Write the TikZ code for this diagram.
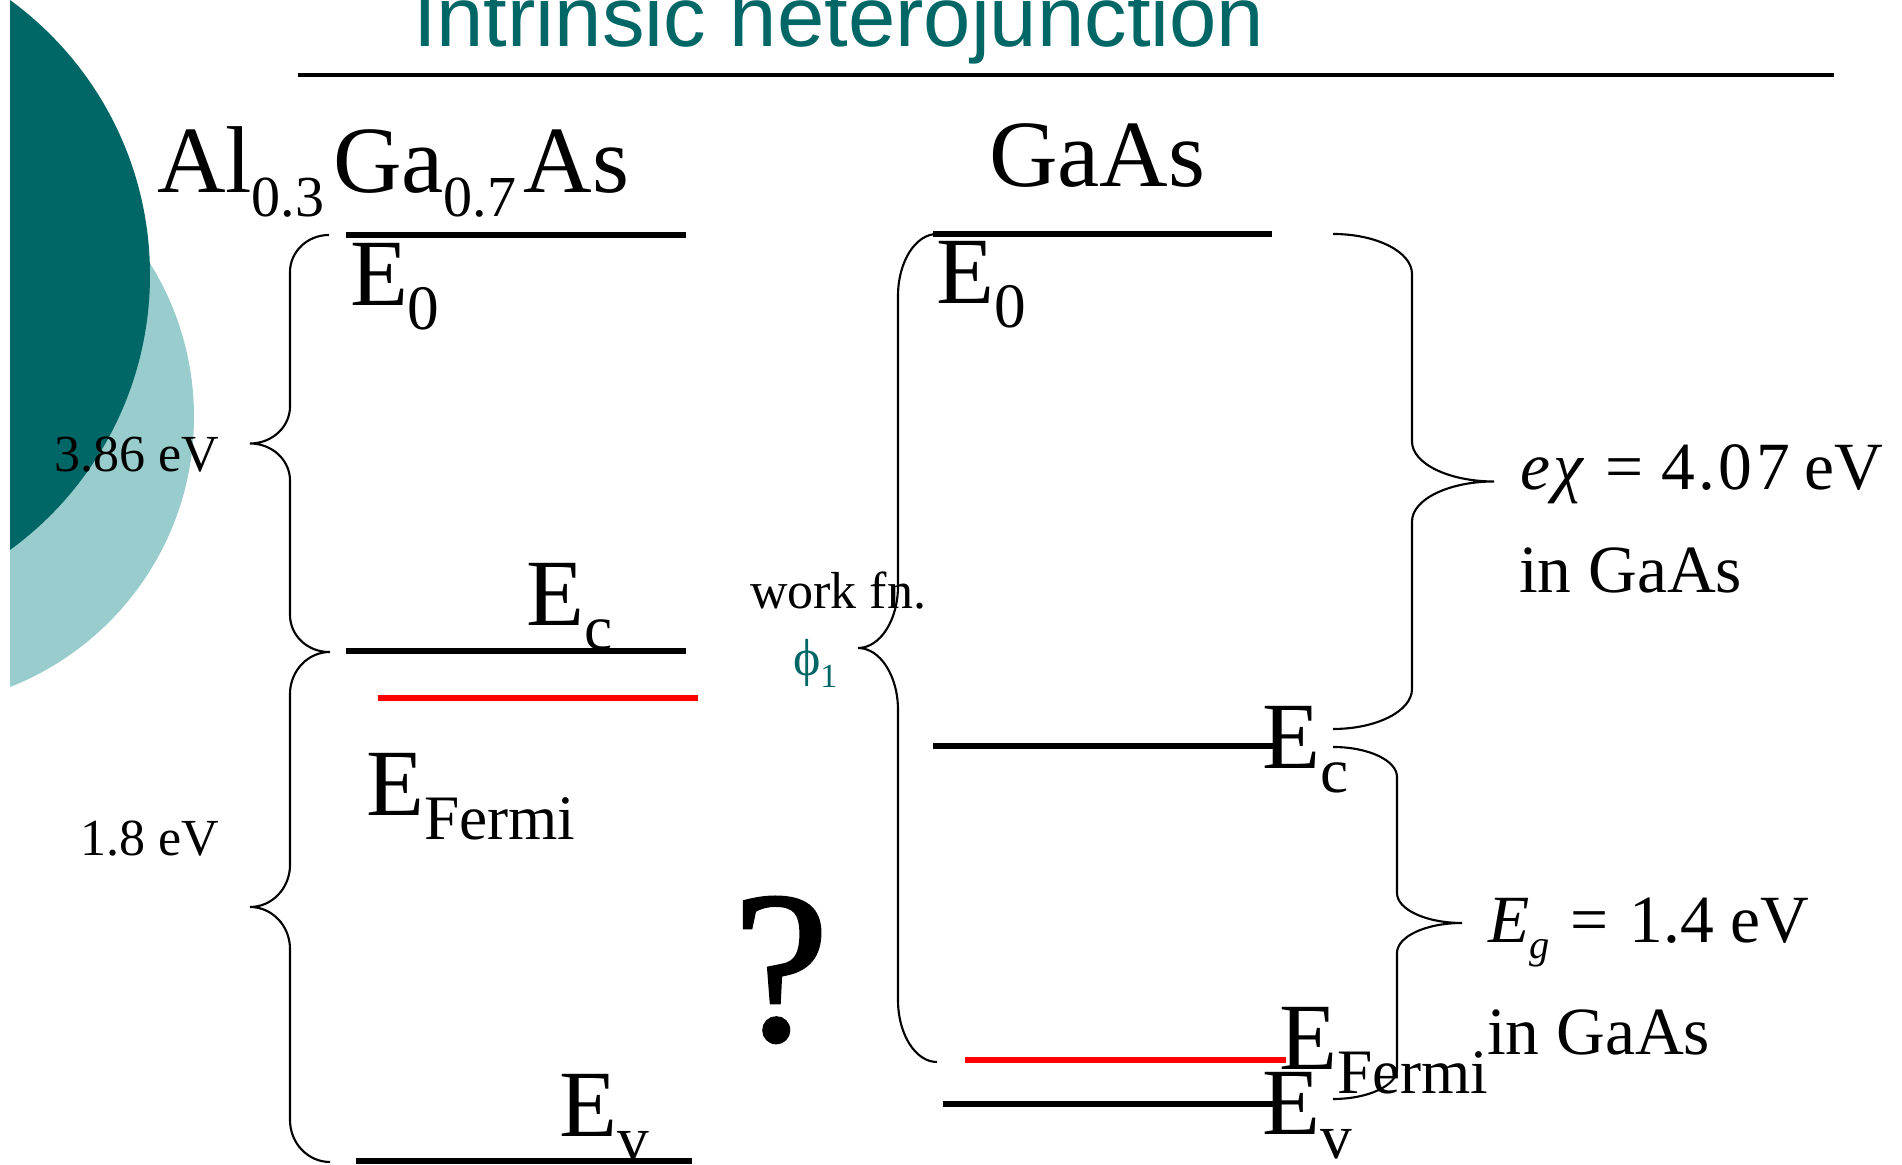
\documentclass[tikz,border=0pt]{standalone}
\usepackage{fontspec}
\setmainfont{Liberation Serif}
\newfontfamily\titlefont{Liberation Sans}
\newfontfamily\qfont[FakeBold=1.2]{Liberation Serif}
\definecolor{tealdark}{RGB}{0,102,102}
\definecolor{teallight}{RGB}{153,204,204}
\newcommand{\fs}[1]{\fontsize{#1pt}{#1pt}\selectfont}
\newcommand{\Elab}[1]{E\raisebox{-6.8pt}{\fs{18}#1}}
% curly brace: #1 end x, #2 spine x, #3 tip x, #4 top y, #5 bottom y, #6 corner radius
\newcommand{\curlybrace}[6]{%
 \pgfmathsetmacro{\bym}{(#4+#5)/2}%
 \pgfmathsetmacro{\bk}{0.5523}%
 \pgfmathsetmacro{\cxa}{#1+\bk*(#2-#1)}%
 \pgfmathsetmacro{\ya}{#4+#6}%
 \pgfmathsetmacro{\yac}{#4+#6-\bk*#6}%
 \pgfmathsetmacro{\yb}{\bym-#6}%
 \pgfmathsetmacro{\ybc}{\bym-#6+\bk*#6}%
 \pgfmathsetmacro{\cxt}{#3+\bk*(#2-#3)}%
 \pgfmathsetmacro{\yc}{\bym+#6}%
 \pgfmathsetmacro{\ycc}{\bym+#6-\bk*#6}%
 \pgfmathsetmacro{\yd}{#5-#6}%
 \pgfmathsetmacro{\ydc}{#5-#6+\bk*#6}%
 \draw[bracestyle] (#1,#4) .. controls (\cxa,#4) and (#2,\yac) .. (#2,\ya) -- (#2,\yb)
   .. controls (#2,\ybc) and (\cxt,\bym) .. (#3,\bym)
   .. controls (\cxt,\bym) and (#2,\ycc) .. (#2,\yc) -- (#2,\yd)
   .. controls (#2,\ydc) and (\cxa,#5) .. (#1,#5);%
}
\begin{document}
\begin{tikzpicture}[x=0.01cm, y=-0.01cm,
  every node/.style={inner sep=0pt, outer sep=0pt},
  bandline/.style={line width=1.6pt, black},
  fermiline/.style={line width=1.6pt, red},
  bracestyle/.style={line width=0.6pt, black},
  big/.style={font=\fs{27}, anchor=base west},
  mid/.style={font=\fs{19.2}, anchor=base west},
  small/.style={font=\fs{14.8}}]
\useasboundingbox (0,0) rectangle (1902,1165);
\fill[white] (0,0) rectangle (1902,1165);
% background discs
\begin{scope}
  \clip (10,0) rectangle (1902,1165);
  \fill[teallight] (-96,417) circle [radius=290];
  \fill[tealdark] (-190,275) circle [radius=340];
\end{scope}
% title and rule
\node[anchor=base west, text=tealdark, font=\titlefont\fs{24.2}] (title) at (413,47) {Intrinsic heterojunction};
\coordinate (ruleL) at (298,75);
\coordinate (ruleR) at (1834,75);
\draw[line width=1.14pt] (ruleL) -- (ruleR);
% material names
\node[big] (alga) at (157,193) {Al\raisebox{-6.8pt}{\fs{16.5}0.3}\hspace{2.5pt}Ga\raisebox{-6.8pt}{\fs{16.5}0.7}\hspace{2pt}As};
\node[big] (gaas) at (989,187) {GaAs};
% AlGaAs levels
\coordinate (lE0a) at (346,235); \coordinate (lE0b) at (686,235);
\coordinate (lEca) at (346,651); \coordinate (lEcb) at (686,651);
\coordinate (lEfa) at (378,698); \coordinate (lEfb) at (698,698);
\coordinate (lEva) at (356,1161); \coordinate (lEvb) at (692,1161);
\draw[bandline] (lE0a) -- (lE0b);
\draw[bandline] (lEca) -- (lEcb);
\draw[fermiline] (lEfa) -- (lEfb);
\draw[bandline] (lEva) -- (lEvb);
% GaAs levels
\coordinate (rE0a) at (933,234); \coordinate (rE0b) at (1272,234);
\coordinate (rEca) at (933,746); \coordinate (rEcb) at (1277,746);
\coordinate (rEfa) at (965,1060); \coordinate (rEfb) at (1286,1060);
\coordinate (rEva) at (943,1104); \coordinate (rEvb) at (1276,1104);
\draw[bandline] (rE0a) -- (rE0b);
\draw[bandline] (rEca) -- (rEcb);
\draw[fermiline] (rEfa) -- (rEfb);
\draw[bandline] (rEva) -- (rEvb);
% level labels
\node[big] (lE0) at (350,306) {\Elab{0}};
\node[big] (lEc) at (526,626) {\Elab{c}};
\node[big] (lEf) at (366,816) {\Elab{Fermi}};
\node[big] (lEv) at (559,1137) {\Elab{v}};
\node[big] (rE0) at (936,304) {\Elab{0}};
\node[big] (rEc) at (1262,769) {\Elab{c}};
\node[big] (rEf) at (1279,1070) {\Elab{Fermi}};
\node[big] (rEv) at (1262,1135) {\Elab{v}};
% question mark
\node[font=\qfont\fs{61.5}, anchor=base] (qm) at (781,1040) {?};
% braces
\curlybrace{329}{290}{250}{235}{652}{37}
\curlybrace{330}{290}{250}{652}{1162}{42}
\curlybrace{937}{898}{858}{234}{1062}{62}
\curlybrace{1333}{1412}{1494}{234}{729}{40}
\curlybrace{1333}{1397}{1462}{747}{1099}{30}
% small labels
\node[small, anchor=base east] (e386) at (219,472) {3.86 eV};
\node[small, anchor=base east] (e18) at (219,856) {1.8 eV};
\node[small, anchor=base west] (wf) at (750,609) {work fn.};
\node[small, anchor=base west, text=tealdark] (phi) at (793,676) {ϕ\raisebox{-3.4pt}{\fs{9.6}1}};
% right labels
\node[mid] (chi) at (1520,490) {\textit{e\kern1ptχ}\hspace{6pt}=\hspace{5pt}4\hspace{1pt}.\hspace{1pt}0\hspace{1pt}7\hspace{4pt}eV};
\node[mid] (in1) at (1519,593) {in GaAs};
\node[mid] (eg) at (1488,943) {\textit{E}\raisebox{-4.3pt}{\fs{11.5}\textit{g}}\hspace{6pt}=\hspace{6pt}1.4 eV};
\node[mid] (in2) at (1487,1055) {in GaAs};
\end{tikzpicture}
\end{document}
